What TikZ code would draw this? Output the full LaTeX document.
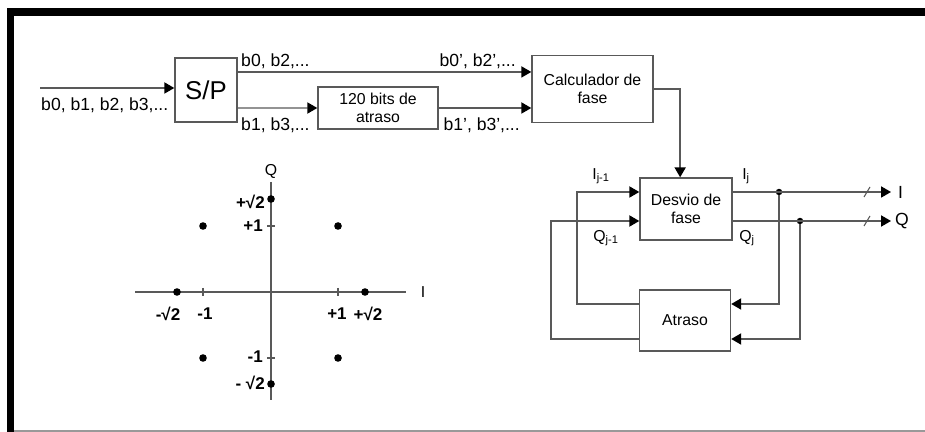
\documentclass[tikz,border=0pt]{standalone}
\usepackage{fontspec}
\setmainfont{Liberation Sans}
\usetikzlibrary{arrows.meta,positioning}

\begin{document}
\begin{tikzpicture}[
    x=0.03cm,
    y=-0.03cm,
    >={Triangle[length=8.5pt,width=9.5pt,color=black]},
    bloco/.style={
        draw=black!65,
        line width=1.2pt,
        inner sep=0pt,
        align=center,
        font=\fontsize{13.5}{15.5}\selectfont
    },
    seta/.style={
        ->,
        draw=black!65,
        line width=1.2pt
    },
    linha/.style={
        draw=black!65,
        line width=1.2pt
    },
    rotulo/.style={
        inner sep=0pt,
        font=\fontsize{15}{17}\selectfont
    },
    indice/.style={
        inner sep=0pt,
        font=\fontsize{13.5}{15}\selectfont
    },
    valor/.style={
        inner sep=0pt,
        font=\bfseries\fontsize{14.5}{16}\selectfont
    },
    ponto/.style={
        circle,
        fill=black,
        inner sep=0pt,
        minimum size=6.5pt
    }
]

% Frame
\useasboundingbox (0,0) rectangle (925,432);
\fill[black] (7,8) rectangle (925,16);
\fill[black] (7,8) rectangle (14,432);
\draw[black!40, line width=1pt] (14,431) -- (925,431);

% Blocks
\node[bloco, minimum width=1.86cm, minimum height=1.92cm,
      font=\fontsize{22}{24}\selectfont] (sp) at (206,90) {S/P};
\node[bloco, minimum width=3.6cm, minimum height=1.26cm] (atr120) at (378,108) {120 bits de\\atraso};
\node[bloco, minimum width=3.63cm, minimum height=2.01cm] (calc) at (592.5,89) {Calculador de\\fase};
\node[bloco, minimum width=2.76cm, minimum height=1.86cm] (desvio) at (686,209) {Desvio de\\fase};
\node[bloco, minimum width=2.73cm, minimum height=1.83cm] (atraso) at (685,320.5) {Atraso};

% Junctions and loop corners
\coordinate (entrada) at (40,88);
\coordinate (voltaI) at (577,304);
\coordinate (voltaQ) at (551,339);
\coordinate (saidaI) at (891,192);
\coordinate (saidaQ) at (891,221);
\node[ponto, minimum size=5.5pt] (jI) at (779,192) {};
\node[ponto, minimum size=5.5pt] (jQ) at (800,221) {};

% Serial to parallel
\draw[seta] (entrada) -- (entrada -| sp.west);
\draw[seta] ([yshift=15.4pt]sp.east) -- ([yshift=15.4pt]sp.east -| calc.west);
\draw[seta] ([yshift=-15.4pt]sp.east) -- (atr120.west);
\draw[seta] (atr120.east) -- (atr120.east -| calc.west);
\draw[seta] (calc.east) -| ([xshift=-5pt]desvio.north);

% Bit labels
\node[rotulo, anchor=west] (bin) at (41,105) {b0, b1, b2, b3,...};
\node[rotulo, anchor=west] (bpar) at (241,61) {b0, b2,...};
\node[rotulo, anchor=west] (bimpar) at (241,125) {b1, b3,...};
\node[rotulo, anchor=east] (bpar2) at (516,61) {b0', b2',...};
\node[rotulo, anchor=east] (bimpar2) at (520,125) {b1', b3',...};

% Phase shift outputs
\draw[seta] (desvio.east |- jI) -- (saidaI);
\draw[seta] (desvio.east |- jQ) -- (saidaQ);
\draw[seta] (jI) |- (atraso.east |- voltaI);
\draw[seta] (jQ) |- (atraso.east |- voltaQ);
\draw[linha, line width=0.9pt] (864,197) -- (870,187);
\draw[linha, line width=0.9pt] (864,226) -- (870,216);
\node[rotulo, anchor=west] (sI) at (898,192) {I};
\node[rotulo, anchor=west] (sQ) at (895,221) {Q};

% Feedback through the delay
\draw[seta] (atraso.west |- voltaI) -- (voltaI) |- (desvio.west |- jI);
\draw[seta] (atraso.west |- voltaQ) -- (voltaQ) |- (desvio.west |- jQ);

% Symbol indices
\node[indice] (Iant) at (601,176) {I\textsubscript{j-1}};
\node[indice] (Qant) at (606,238) {Q\textsubscript{j-1}};
\node[indice] (Iatu) at (746,176) {I\textsubscript{j}};
\node[indice] (Qatu) at (747,238) {Q\textsubscript{j}};

% Constellation axes
\coordinate (O) at (271,292);
\draw[linha] (135,292) -- (406,292);
\draw[linha] (271,182) -- (271,400);
\node[indice] (eixoQ) at (271,171) {Q};
\node[indice] (eixoI) at (423,292) {I};

% Ticks
\draw[linha] (203,288) -- (203,296);
\draw[linha] (338,288) -- (338,296);
\draw[linha] (267,226) -- (275,226);
\draw[linha] (267,358) -- (275,358);

% Constellation points
\node[ponto] (p1) at (203,226) {};
\node[ponto] (p2) at (338,226) {};
\node[ponto] (p3) at (203,358) {};
\node[ponto] (p4) at (338,358) {};
\node[ponto] (p5) at (177,292) {};
\node[ponto] (p6) at (365,292) {};
\node[ponto] (p7) at (271,199) {};
\node[ponto] (p8) at (271,384) {};

% Axis values
\node[valor] (vI1) at (168,314) {-√2};
\node[valor] (vI2) at (205,314) {-1};
\node[valor] (vI3) at (337,314) {+1};
\node[valor] (vI4) at (368,314) {+√2};
\node[valor, anchor=east] (vQ1) at (265,202) {+√2};
\node[valor, anchor=east] (vQ2) at (263,226) {+1};
\node[valor, anchor=east] (vQ3) at (263,357) {-1};
\node[valor, anchor=east] (vQ4) at (265,383) {- √2};

\end{tikzpicture}
\end{document}
